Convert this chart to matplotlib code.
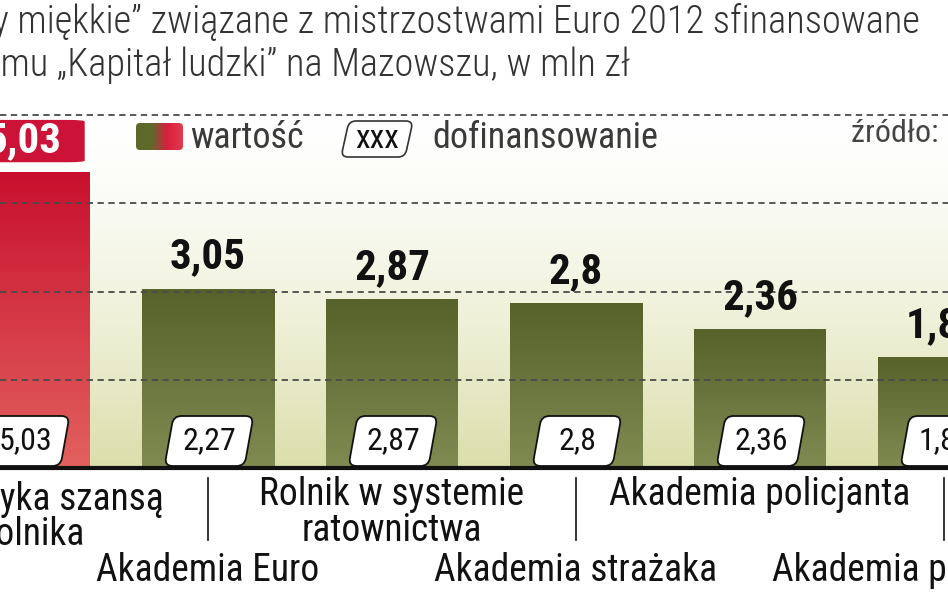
import numpy as np
import matplotlib
matplotlib.use("Agg")
import matplotlib.pyplot as plt
from matplotlib import font_manager as fm
from matplotlib.path import Path
from matplotlib.patches import PathPatch, FancyBboxPatch
from matplotlib.transforms import IdentityTransform
from matplotlib.colors import LinearSegmentedColormap

# data
categories = ['Turystyka szansą\nrolnika', 'Akademia Euro',
              'Rolnik w systemie\nratownictwa', 'Akademia strażaka',
              'Akademia policjanta', 'Akademia przewodnika']
values = [5.03, 3.05, 2.87, 2.80, 2.36, 1.88]
cofund = [5.03, 2.27, 2.87, 2.80, 2.36, 1.88]
grid_levels = [1.5, 3.0, 4.5, 6.0]

title_lines = ['„Projekty miękkie” związane z mistrzostwami Euro 2012 sfinansowane',
               'z programu „Kapitał ludzki” na Mazowszu, w mln zł']
legend_value = 'wartość'
legend_cofund = 'dofinansowanie'
legend_sample = 'xxx'
source = 'źródło: MJWPU'


def have(name):
    try:
        fm.findfont(fm.FontProperties(family=name), fallback_to_default=False)
        return True
    except Exception:
        return False


NARROW = 'DejaVu Sans'
for cand in ['Roboto Condensed', 'Liberation Sans Narrow', 'Open Sans Condensed',
             'DejaVu Sans Condensed']:
    if have(cand):
        NARROW = cand
        break
FAM = [NARROW, 'DejaVu Sans']


def fmt(v):
    return f"{v:g}".replace('.', ',')


W, H = 948, 593
fig = plt.figure(figsize=(W / 100, H / 100), dpi=100)
fig.patch.set_facecolor('white')

# data axes: bars at 184 px spacing, 58.8 px per unit, baseline at 468 px from top
ppu = 58.8
ax = fig.add_axes([0, 0, 1, 1])
ax.set_xlim(-24 / 184, (W - 24) / 184)
ax.set_ylim(-(H - 468) / ppu, 468 / ppu)
ax.axis('off')

# overlay axes in pixel units for title / legend
lay = fig.add_axes([0, 0, 1, 1], zorder=5)
lay.set_xlim(0, W)
lay.set_ylim(H, 0)
lay.axis('off')
lay.patch.set_alpha(0)

x0, x1 = ax.get_xlim()

# background gradient above baseline
t = np.linspace(0, 1, 256) ** 1.4
bg_top = np.array([1, 1, 1])
bg_bot = np.array([0xdb, 0xdf, 0xaa]) / 255
bg = bg_top[None, :] * (1 - t[:, None]) + bg_bot[None, :] * t[:, None]
ax.imshow(bg[:, None, :], extent=[x0, x1, 0, 5.9], aspect='auto',
          origin='upper', zorder=0)

xs = np.arange(len(values))
imax = int(np.argmax(values))
green = LinearSegmentedColormap.from_list('g', ['#56622a', '#808b52'])
red = LinearSegmentedColormap.from_list('r', ['#c8102e', '#e2615e'])

bars = ax.bar(xs, values, width=132 / 184, color='none', zorder=2)
for i, b in enumerate(bars):
    cmap = red if i == imax else green
    im = ax.imshow(np.linspace(0, 1, 100)[:, None], cmap=cmap, aspect='auto',
                   extent=[b.get_x(), b.get_x() + b.get_width(), 0, b.get_height()],
                   origin='upper', zorder=2)
    im.set_clip_path(b)

# dashed grid over the bars
for g in grid_levels:
    ax.axhline(g, color='#4a4a4a', lw=1.3, ls=(0, (3.5, 2.5)), zorder=3)

# baseline
ax.axhline(0, color='#111111', lw=3, zorder=6)


def skew_box(a, cx, cy, w, h, s, r, **kw):
    # rounded parallelogram, display coords (y up)
    pts = [(cx - w / 2 - s / 2, cy - h / 2), (cx - w / 2 + s / 2, cy + h / 2),
           (cx + w / 2 + s / 2, cy + h / 2), (cx + w / 2 - s / 2, cy - h / 2)]
    pts = [np.array(p) for p in pts]
    verts, codes = [], []
    n = len(pts)
    for k in range(n):
        P, A, B = pts[k], pts[k - 1], pts[(k + 1) % n]
        p1 = P + r * (A - P) / np.linalg.norm(A - P)
        p2 = P + r * (B - P) / np.linalg.norm(B - P)
        verts += [tuple(p1), tuple(P), tuple(p2)]
        codes += [Path.MOVETO if k == 0 else Path.LINETO, Path.CURVE3, Path.CURVE3]
    verts.append(verts[0])
    codes.append(Path.CLOSEPOLY)
    patch = PathPatch(Path(verts, codes), transform=IdentityTransform(), **kw)
    a.add_patch(patch)
    return patch


# value labels and co-funding boxes
for i, (v, c) in enumerate(zip(values, cofund)):
    if i == imax:
        ax.add_patch(FancyBboxPatch((i - 0.33, v + 0.17), 0.66, 0.72,
                                    boxstyle='round,pad=0,rounding_size=0.09',
                                    mutation_aspect=1 / 3.1,
                                    fc='#cc1236', ec='none', zorder=7))
        ax.text(i, v + 0.53, fmt(v), ha='center', va='center', color='white',
                fontsize=31, fontweight='bold', family=FAM, zorder=8)
    else:
        ax.annotate(fmt(v), (i, v), xytext=(0, 23), textcoords='offset points',
                    ha='center', va='center', fontsize=31, fontweight='bold',
                    family=FAM, color='#111111', zorder=8)
    px, py = ax.transData.transform((i, 0))
    skew_box(ax, px + 1, py + 27, 80, 50, 9, 8, fc='white', ec='#111111',
             lw=1.3, zorder=7)
    ax.annotate(fmt(c), (i, 0), xytext=(1, 20), textcoords='offset points',
                ha='center', va='center', fontsize=23, family=FAM,
                color='#111111', zorder=8)

# category labels: alternate rows, separators under lower-row labels
for i, cat in enumerate(categories):
    if i % 2 == 0:
        dx, dy = (8, -9) if i == 0 else (0, -6)
        ax.annotate(cat, (i, 0), xytext=(dx, dy), textcoords='offset points',
                    ha='center', va='top', fontsize=27, family=FAM,
                    color='#111111', linespacing=0.95)
    else:
        ax.annotate(cat, (i, 0), xytext=(0, -74), textcoords='offset points',
                    ha='center', va='center', fontsize=27, family=FAM,
                    color='#111111')
        ax.plot([i, i], [-(10 / ppu), -(72 / ppu)], color='#111111', lw=1.2)

# title
for k, line in enumerate(title_lines):
    lay.text(-122, 22 + 43 * k, line, ha='left', va='center', fontsize=27.6,
             family=FAM, color='#333333', fontweight='light')

# legend
swatch = FancyBboxPatch((136, 123), 47, 27, boxstyle='round,pad=0,rounding_size=4',
                        fc='none', ec='none')
lay.add_patch(swatch)
sw = LinearSegmentedColormap.from_list('s', ['#5a6a2a', '#5f6a2b', '#d8203e', '#e23a4e'])
sim = lay.imshow(np.linspace(0, 1, 100)[None, :], cmap=sw, aspect='auto',
                 extent=[136, 183, 150, 123], zorder=5)
sim.set_clip_path(swatch)
lay.text(190, 138, legend_value, ha='left', va='center', fontsize=26,
         family=FAM, color='#3a3a3a')
skew_box(lay, 377, H - 139, 64, 36, 8, 7, fc='white', ec='#333333', lw=1.2, zorder=6)
lay.text(377, 139, legend_sample, ha='center', va='center', fontsize=24,
         family=FAM, color='#111111', zorder=7)
lay.text(432, 138, legend_cofund, ha='left', va='center', fontsize=26,
         family=FAM, color='#3a3a3a')
lay.text(851, 134, source, ha='left', va='center', fontsize=23,
         family=FAM, color='#444444')

fig.savefig('out.png', dpi=100)
